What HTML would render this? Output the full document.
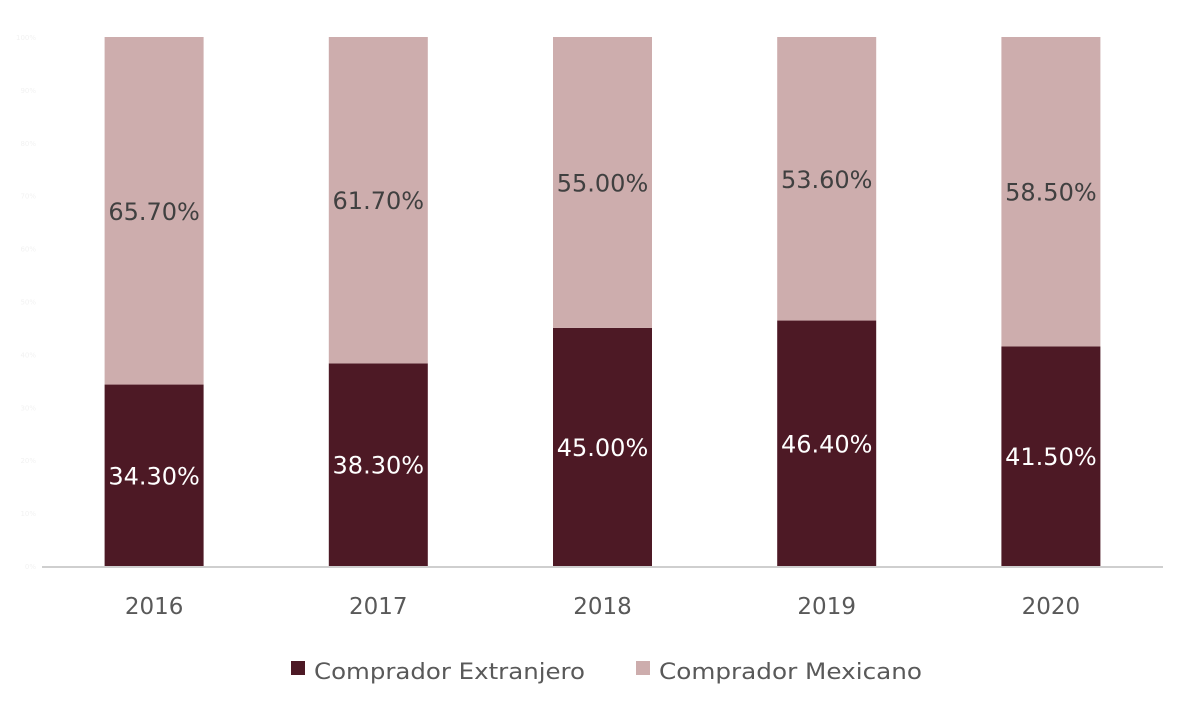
<!DOCTYPE html>
<html><head><meta charset="utf-8"><style>
body{margin:0;background:#fff;}
svg{display:block;font-family:"DejaVu Sans","Liberation Sans",sans-serif;}
</style></head><body>
<svg id="chart" width="1200" height="720"></svg>
<script>
const categories=["2016","2017","2018","2019","2020"];
const extranjero=[34.3,38.3,45.0,46.4,41.5];
const mexicano=[65.7,61.7,55.0,53.6,58.5];
const yTicks=[0,10,20,30,40,50,60,70,80,90,100];
const NS="http://www.w3.org/2000/svg";
const svg=document.getElementById('chart');
const top0=37,bottom0=566,left0=42,right0=1163;
const slot=(right0-left0)/categories.length;
const barW=99;
function y(v){return bottom0-(v/100)*(bottom0-top0);}
function xc(i){return left0+slot*(i+0.5);}
function mk(t,a,txt){const e=document.createElementNS(NS,t);for(const k in a)e.setAttribute(k,a[k]);if(txt!==undefined)e.textContent=txt;svg.appendChild(e);return e;}
yTicks.forEach(v=>{
 const t=mk('text',{x:36,y:y(v)+3,'text-anchor':'end','font-size':7,fill:'#f2f2f2'},v+'%');
 
 
});
categories.forEach((c,i)=>{
 const x=xc(i)-barW/2;
 const r1=mk('rect',{x:x,y:y(extranjero[i]),width:barW,height:y(0)-y(extranjero[i]),fill:'#4d1925'});
 
 
 const r2=mk('rect',{x:x,y:y(100),width:barW,height:y(extranjero[i])-y(100),fill:'#cdadad'});
 
 
 const l1=mk('text',{x:xc(i),y:(y(0)+y(extranjero[i]))/2+9,'text-anchor':'middle','font-size':24,fill:'#fff'},extranjero[i].toFixed(2)+'%');
 
 
 const l2=mk('text',{x:xc(i),y:(y(extranjero[i])+y(100))/2+9,'text-anchor':'middle','font-size':24,fill:'#404040'},mexicano[i].toFixed(2)+'%');
 
 
 const xl=mk('text',{x:xc(i),y:614,'text-anchor':'middle','font-size':23,fill:'#595959'},c);
 
 
});
const ax=mk('line',{x1:left0,x2:right0,y1:567,y2:567,stroke:'#bfbfbf','stroke-width':1.5});


const s1=mk('rect',{x:291,y:661,width:14,height:14,fill:'#4d1925'});


const t1=mk('text',{x:314,y:679,'font-size':22,fill:'#595959',textLength:271,lengthAdjust:'spacingAndGlyphs'},'Comprador Extranjero');


const s2=mk('rect',{x:636,y:661,width:14,height:14,fill:'#cdadad'});


const t2=mk('text',{x:659,y:679,'font-size':22,fill:'#595959',textLength:263,lengthAdjust:'spacingAndGlyphs'},'Comprador Mexicano');


</script>
</body></html>
